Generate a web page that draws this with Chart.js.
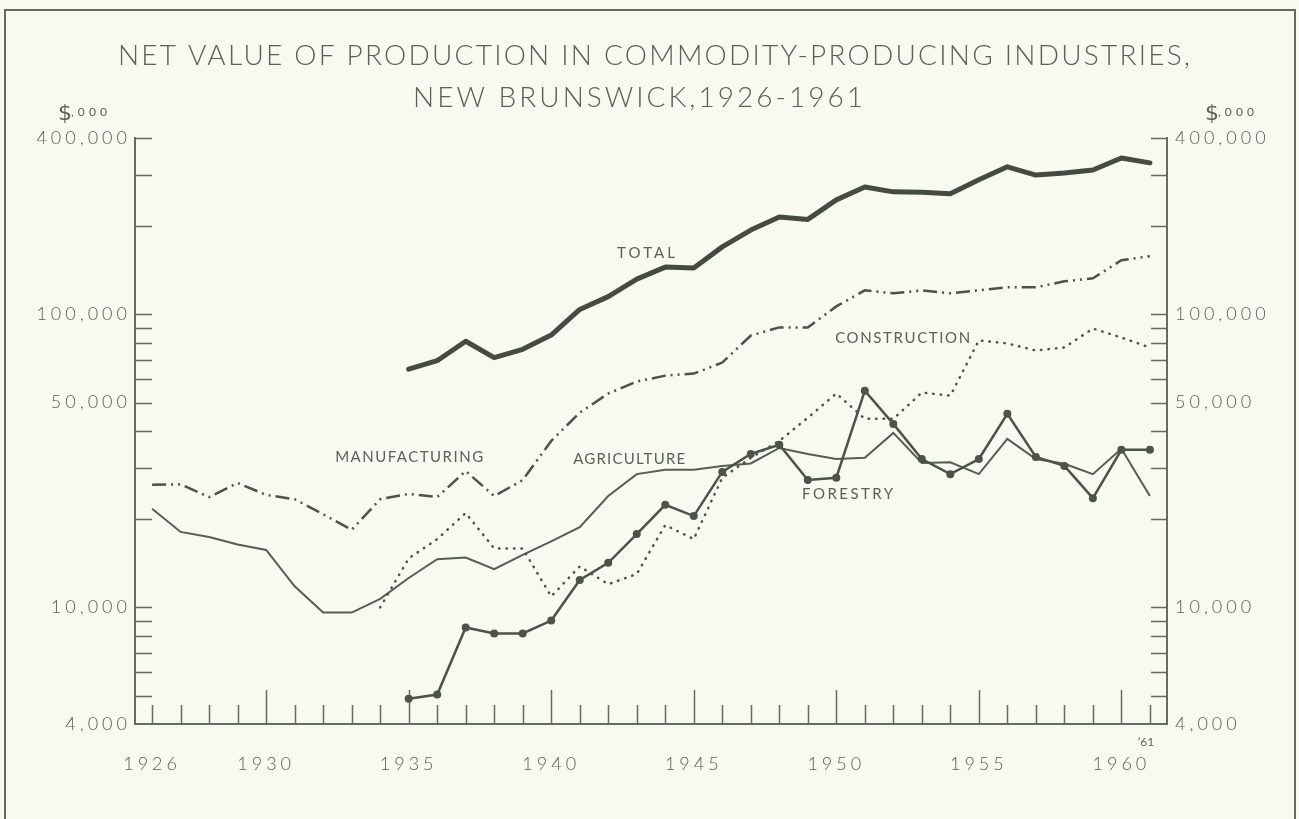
<!DOCTYPE html>
<html>
<head>
<meta charset="utf-8">
<title>Net value of production in commodity-producing industries, New Brunswick, 1926-1961</title>
<script src="https://cdn.jsdelivr.net/npm/chart.js@4.4.1/dist/chart.umd.min.js"></script>
<style>
  html, body { margin: 0; padding: 0; background: #f8f9f0; }
  canvas { display: block; }
</style>
</head>
<body>
<canvas id="chart" width="1299" height="819"></canvas>
<script>
// years on the x axis
const years = [1926, 1927, 1928, 1929, 1930, 1931, 1932, 1933, 1934, 1935,
  1936, 1937, 1938, 1939, 1940, 1941, 1942, 1943, 1944, 1945,
  1946, 1947, 1948, 1949, 1950, 1951, 1952, 1953, 1954, 1955,
  1956, 1957, 1958, 1959, 1960, 1961];

// net value, $ thousands
const totalValues = [null, null, null, null, null, null, null, null, null,
  65000, 69500, 81000, 71200, 76000, 85000, 104000, 115000, 132000, 145000,
  144000, 170000, 194000, 215000, 211000, 246000, 272000, 262000, 261000, 258000,
  288000, 319000, 299000, 304000, 311000, 342000, 329000];

const manufacturingValues = [26200, 26300, 23800, 26600, 24200, 23400, 20800, 18400, 23400, 24400,
  23800, 29200, 24000, 27200, 37000, 46200, 53700, 59000, 61800, 62800,
  68500, 84700, 90300, 90300, 106500, 120800, 118000, 120800, 118000, 120800,
  123700, 123700, 129700, 132800, 153000, 158000];

const constructionValues = [null, null, null, null, null, null, null, null,
  10000, 14700, 17100, 21000, 15900, 15900, 10900, 13800, 12000, 13000,
  19100, 17100, 27700, 32400, 37000, 44400, 53700, 44000, 44000, 54100,
  52800, 81500, 79600, 75300, 77100, 89500, 83400, 77100];

const agricultureValues = [21700, 18100, 17400, 16400, 15700, 11800, 9600, 9600, 10700, 12600,
  14600, 14800, 13500, 15100, 16800, 18800, 24000, 28500, 29500, 29500,
  30400, 31000, 35000, 33400, 32100, 32400, 39400, 31100, 31300, 28500,
  37600, 32100, 30900, 28500, 34800, 24000];

const forestryValues = [null, null, null, null, null, null, null, null, null,
  4880, 5040, 8540, 8150, 8150, 9020, 12400, 14200, 17800, 22400,
  20500, 29000, 33400, 35900, 27200, 27700, 54900, 42300, 32100, 28500,
  32100, 45800, 32600, 30400, 23600, 34500, 34500];

// axis ticks
const xLabelYears = [1926, 1930, 1935, 1940, 1945, 1950, 1955, 1960];
const yLabelValues = [4000, 10000, 50000, 100000, 400000];
const yTickValues = [5000, 6000, 7000, 8000, 9000, 10000, 20000, 30000, 40000, 50000,
  60000, 70000, 80000, 90000, 100000, 200000, 300000, 400000];

const ink = '#4b534a';
const axisInk = '#646b63';
const textInk = '#596158';
const paper = '#f8f9f0';

function points(values) {
    return years
        .map((yr, i) => ({ x: yr, y: values[i] }))
        .filter(p => p.y !== null);
}

// draw text stretched to a given width with letter spacing
function spacedText(ctx, text, left, y, width) {
    ctx.letterSpacing = '0px';
    const w = ctx.measureText(text).width;
    const sp = (width - w) / Math.max(text.length - 1, 1);
    ctx.letterSpacing = sp + 'px';
    ctx.textAlign = 'left';
    ctx.fillText(text, left, y);
    ctx.letterSpacing = '0px';
}

// background paper and frame
const paperPlugin = {
    id: 'paper',
    beforeDraw(chart) {
        const ctx = chart.ctx;
        ctx.save();
        ctx.fillStyle = paper;
        ctx.fillRect(0, 0, chart.width, chart.height);
        ctx.strokeStyle = axisInk;
        ctx.lineWidth = 2;
        ctx.strokeRect(5, 10, chart.width - 9, chart.height + 20);
        ctx.restore();
        // wide spacing for the axis numbers
        ctx.letterSpacing = '4px';
    }
};

// tick marks point into the plot, like the drafted original
const innerTicks = {
    id: 'innerTicks',
    beforeDatasetsDraw(chart) {
        const { ctx, chartArea: a, scales: { x, y } } = chart;
        ctx.save();
        ctx.letterSpacing = '0px';
        ctx.strokeStyle = axisInk;
        ctx.lineWidth = 1.5;
        ctx.beginPath();
        yTickValues.forEach(v => {
            const py = Math.round(y.getPixelForValue(v)) + 0.5;
            ctx.moveTo(a.left, py);
            ctx.lineTo(a.left + 17, py);
            ctx.moveTo(a.right, py);
            ctx.lineTo(a.right - 16, py);
        });
        years.forEach(yr => {
            const px = Math.round(x.getPixelForValue(yr)) + 0.5;
            const len = yr % 5 === 0 ? 34 : 19;
            ctx.moveTo(px, a.bottom);
            ctx.lineTo(px, a.bottom - len);
        });
        ctx.stroke();
        ctx.restore();
    }
};

// title, units and the series names written on the chart
const annotations = {
    id: 'annotations',
    afterDraw(chart) {
        const { ctx, scales: { x, y } } = chart;
        ctx.save();
        ctx.fillStyle = textInk;
        ctx.textBaseline = 'alphabetic';
        ctx.font = '300 28px Lato, "DejaVu Sans", sans-serif';
        spacedText(ctx, 'NET VALUE OF PRODUCTION IN COMMODITY-PRODUCING INDUSTRIES,', 118, 65, 1072);
        spacedText(ctx, 'NEW BRUNSWICK,1926-1961', 413, 107, 450);

        // $,000 unit marks on both sides
        [58, 1205].forEach(left => {
            ctx.font = '22px "DejaVu Sans", sans-serif';
            ctx.textAlign = 'left';
            ctx.fillText('$', left, 120);
            const w = ctx.measureText('$').width;
            ctx.font = '12px Lato, sans-serif';
            spacedText(ctx, ',000', left + w - 1, 116, 36);
        });

        // '61 under the last year tick
        ctx.font = '12px Lato, sans-serif';
        ctx.textAlign = 'center';
        ctx.textBaseline = 'middle';
        ctx.fillText('\u201961', x.getPixelForValue(1961) - 4, 742);

        // series names
        ctx.font = '15px Lato, "DejaVu Sans", sans-serif';
        chart.data.datasets.forEach(ds => {
            const [yr, val, width] = ds.labelAt;
            spacedText(ctx, ds.label, x.getPixelForValue(yr), y.getPixelForValue(val), width);
        });
        ctx.restore();
    }
};

const ctx = document.getElementById('chart').getContext('2d');
new Chart(ctx, {
    type: 'line',
    data: {
        datasets: [
            {
                label: 'FORESTRY',
                data: points(forestryValues),
                borderColor: ink,
                backgroundColor: ink,
                borderWidth: 2.5,
                pointRadius: 4,
                pointBorderWidth: 0,
                pointBackgroundColor: ink,
                labelAt: [1948.8, 24380, 91]
            },
            {
                label: 'TOTAL',
                data: points(totalValues),
                borderColor: '#434b42',
                borderWidth: 5,
                borderCapStyle: 'round',
                borderJoinStyle: 'round',
                pointRadius: 0,
                labelAt: [1942.31, 161800, 58]
            },
            {
                label: 'MANUFACTURING',
                data: points(manufacturingValues),
                borderColor: ink,
                borderWidth: 2.5,
                borderDash: [14, 5, 2, 5, 2, 5],
                pointRadius: 0,
                labelAt: [1932.42, 32650, 148]
            },
            {
                label: 'CONSTRUCTION',
                data: points(constructionValues),
                borderColor: ink,
                borderWidth: 2.5,
                borderCapStyle: 'round',
                borderDash: [0.5, 7],
                pointRadius: 0,
                labelAt: [1949.96, 82750, 135]
            },
            {
                label: 'AGRICULTURE',
                data: points(agricultureValues),
                borderColor: '#555d54',
                borderWidth: 2,
                pointRadius: 0,
                labelAt: [1940.77, 32100, 112]
            }
        ]
    },
    options: {
        responsive: false,
        animation: false,
        layout: { padding: { top: 138, left: 0, right: 0, bottom: 0 } },
        plugins: {
            legend: { display: false },
            tooltip: { enabled: false },
            title: { display: false }
        },
        elements: { line: { tension: 0 } },
        scales: {
            x: {
                type: 'linear',
                min: 1925.4,
                max: 1961.6,
                grid: { display: false, drawTicks: false },
                border: { display: true, color: axisInk, width: 2 },
                afterBuildTicks: scale => {
                    scale.ticks = xLabelYears.map(v => ({ value: v }));
                },
                afterFit: scale => { scale.height = 95; },
                ticks: {
                    autoSkip: false,
                    maxRotation: 0,
                    padding: 29,
                    color: textInk,
                    font: { family: 'Lato', size: 18, weight: '300' },
                    callback: value => String(value)
                }
            },
            y: {
                type: 'logarithmic',
                position: 'left',
                min: 4000,
                max: 400000,
                grid: { display: false, drawTicks: false },
                border: { display: true, color: axisInk, width: 2 },
                afterBuildTicks: scale => {
                    scale.ticks = yLabelValues.map(v => ({ value: v }));
                },
                afterFit: scale => { scale.width = 135; },
                ticks: {
                    padding: 4,
                    color: textInk,
                    font: { family: 'Lato', size: 18, weight: '300' },
                    callback: value => value.toLocaleString('en-US')
                }
            },
            y2: {
                type: 'logarithmic',
                position: 'right',
                min: 4000,
                max: 400000,
                grid: { display: false, drawTicks: false },
                border: { display: true, color: axisInk, width: 2 },
                afterBuildTicks: scale => {
                    scale.ticks = yLabelValues.map(v => ({ value: v }));
                },
                afterFit: scale => { scale.width = 132; },
                ticks: {
                    padding: 8,
                    color: textInk,
                    font: { family: 'Lato', size: 18, weight: '300' },
                    callback: value => value.toLocaleString('en-US')
                }
            }
        }
    },
    plugins: [paperPlugin, innerTicks, annotations]
});
</script>
</body>
</html>
